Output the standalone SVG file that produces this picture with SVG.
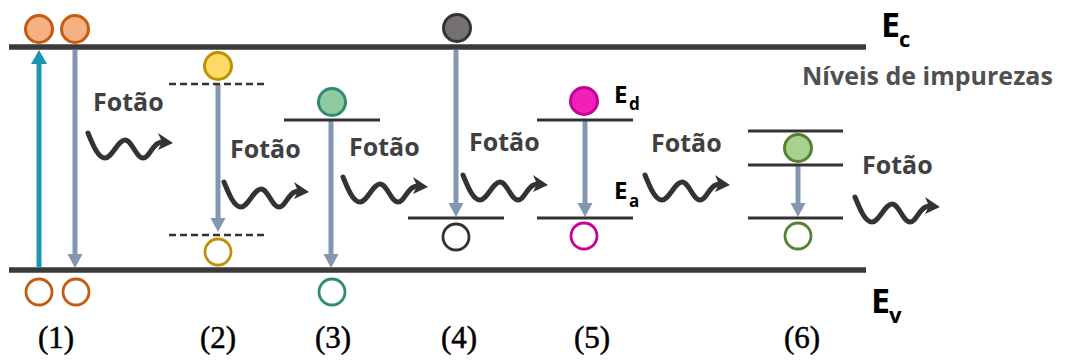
<svg xmlns="http://www.w3.org/2000/svg" width="1067" height="360" viewBox="0 0 1067 360">
<defs>
<style>
.band{stroke:#3a3a3a;stroke-width:5.5;fill:none}
.lvl{stroke:#333;stroke-width:3;fill:none}
.dash{stroke:#333;stroke-width:2.5;fill:none;stroke-dasharray:7 4}
.ga{stroke:#8497b0;stroke-width:5;fill:none;marker-end:url(#hg)}
.ba{stroke:#1a95b2;stroke-width:5;fill:none;marker-end:url(#hb)}
.ft{font-family:"Open Sans","Liberation Sans",sans-serif;font-weight:700;font-size:25px;fill:#404040}
.en{font-family:"Open Sans","Liberation Sans",sans-serif;font-weight:700;fill:#000}
.lb{font-family:"Liberation Serif",serif;font-size:31px;fill:#000;stroke:#000;stroke-width:0.5;text-anchor:middle}
.wave{stroke:#333;stroke-width:5;fill:none;stroke-linecap:round;stroke-linejoin:round}
.h{fill:none;stroke-width:2.8}
</style>
<marker id="hg" markerUnits="userSpaceOnUse" markerWidth="15" markerHeight="16" refX="4" refY="7.5" orient="auto" viewBox="0 0 15 16">
<path d="M0,0 L14,7.5 L0,15 z" fill="#8497b0"/>
</marker>
<marker id="hb" markerUnits="userSpaceOnUse" markerWidth="15" markerHeight="16" refX="4" refY="8" orient="auto" viewBox="0 0 15 16">
<path d="M0,0 L14,8 L0,16 z" fill="#1a95b2"/>
</marker>
<g id="photon">
<path class="wave" d="M0,0 C5,12 10,25 17,25 C24,25 30,7 37,7 C44,7 48,25 55,25 C62,25 64,9 75,9"/>
<polygon points="70,0 85,10 70,17 74,9" fill="#333"/>
</g>
</defs>

<g id="bands">
<line class="band" x1="9" y1="47" x2="866" y2="47"/>
<line class="band" x1="9" y1="270" x2="866" y2="270"/>
</g>

<g id="connectors">
<line class="ba" x1="39" y1="268" x2="39" y2="60"/>
<line class="ga" x1="75" y1="50" x2="75" y2="258"/>
<line class="ga" x1="218" y1="84" x2="218" y2="222"/>
<line class="ga" x1="331" y1="120" x2="331" y2="258"/>
<line class="ga" x1="456" y1="50" x2="456" y2="207"/>
<line class="ga" x1="585" y1="120" x2="585" y2="207"/>
<line class="ga" x1="798" y1="165" x2="798" y2="207"/>
</g>

<g id="node1">
<circle cx="39" cy="29" r="13.5" fill="#f4b183" stroke="#c55a11" stroke-width="3"/>
<circle cx="75" cy="29" r="13.5" fill="#f4b183" stroke="#c55a11" stroke-width="3"/>
<circle class="h" cx="39" cy="292" r="13" stroke="#c55a11"/>
<circle class="h" cx="76" cy="292" r="13" stroke="#c55a11"/>
<text class="ft" x="93" y="111">Fotão</text>
<use href="#photon" x="88" y="133"/>
<text class="lb" x="56" y="348">(1)</text>
</g>

<g id="node2">
<line class="dash" x1="169" y1="84" x2="268" y2="84"/>
<line class="dash" x1="169" y1="235" x2="268" y2="235"/>
<circle cx="218" cy="66" r="13.5" fill="#ffd966" stroke="#bf9000" stroke-width="3"/>
<circle class="h" cx="218" cy="252" r="13" stroke="#bf9000"/>
<text class="ft" x="230" y="158">Fotão</text>
<use href="#photon" x="224" y="182"/>
<text class="lb" x="218" y="348">(2)</text>
</g>

<g id="node3">
<line class="lvl" x1="284" y1="120" x2="380" y2="120"/>
<circle cx="332" cy="102" r="13.5" fill="#8fcb9e" stroke="#2e8b6f" stroke-width="3"/>
<circle class="h" cx="332" cy="292" r="13" stroke="#2e8b6f"/>
<text class="ft" x="349" y="156">Fotão</text>
<use href="#photon" x="343" y="177"/>
<text class="lb" x="333" y="348">(3)</text>
</g>

<g id="node4">
<circle cx="457" cy="28" r="13.5" fill="#767171" stroke="#333" stroke-width="3"/>
<line class="lvl" x1="408" y1="218" x2="504" y2="218"/>
<circle class="h" cx="456" cy="237" r="13" stroke="#333"/>
<text class="ft" x="469" y="151">Fotão</text>
<use href="#photon" x="463" y="175"/>
<text class="lb" x="459" y="348">(4)</text>
</g>

<g id="node5">
<line class="lvl" x1="537" y1="120" x2="633" y2="120"/>
<line class="lvl" x1="537" y1="218" x2="633" y2="218"/>
<circle cx="584" cy="101" r="13.5" fill="#f020b8" stroke="#c0088f" stroke-width="3"/>
<circle class="h" cx="584" cy="236" r="13" stroke="#cc0099"/>
<text class="en" x="614" y="103" font-size="24">E<tspan x="629" y="110" font-size="17">d</tspan></text>
<text class="en" x="614" y="199" font-size="24">E<tspan x="629" y="207" font-size="17">a</tspan></text>
<text class="ft" x="651" y="152">Fotão</text>
<use href="#photon" x="645" y="175"/>
<text class="lb" x="592" y="348">(5)</text>
</g>

<g id="node6">
<line class="lvl" x1="748" y1="131" x2="843" y2="131"/>
<line class="lvl" x1="748" y1="165" x2="843" y2="165"/>
<line class="lvl" x1="748" y1="218" x2="843" y2="218"/>
<circle cx="798" cy="148" r="13.5" fill="#a9d18e" stroke="#548235" stroke-width="3"/>
<circle class="h" cx="798" cy="236" r="13" stroke="#548235"/>
<text class="ft" x="862" y="174">Fotão</text>
<use href="#photon" x="855" y="197"/>
<text class="lb" x="802" y="348">(6)</text>
</g>

<g id="labels">
<text class="en" x="881" y="37" font-size="34">E<tspan x="899" y="47" font-size="22">c</tspan></text>
<text class="en" x="871" y="313" font-size="34">E<tspan x="889" y="323" font-size="22">v</tspan></text>
<text class="ft" x="802" y="85" style="fill:#505050">Níveis de impurezas</text>
</g>
</svg>
